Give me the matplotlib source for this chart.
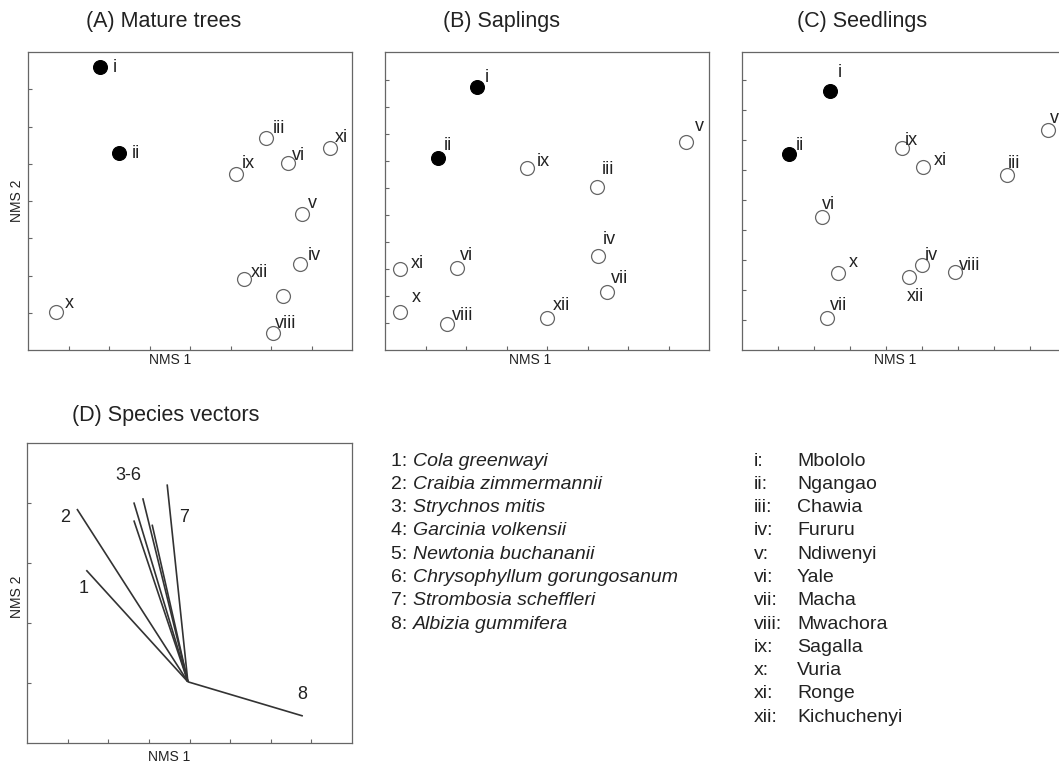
import matplotlib
matplotlib.use("Agg")
import matplotlib.pyplot as plt

plt.rcParams["font.family"] = ["Liberation Sans", "DejaVu Sans"]

W, H = 1059, 767
INK = "#222222"

# ---- data ----
sites = ["i", "ii", "iii", "iv", "v", "vi", "vii", "viii", "ix", "x", "xi", "xii"]
site_names = ["Mbololo", "Ngangao", "Chawia", "Fururu", "Ndiwenyi", "Yale",
              "Macha", "Mwachora", "Sagalla", "Vuria", "Ronge", "Kichuchenyi"]
filled_sites = ["i", "ii"]

mature_x = [1.78, 2.25, 5.88, 6.72, 6.77, 6.43, 6.29, 6.06, 5.13, 0.69, 7.46, 5.34]
mature_y = [7.61, 5.28, 5.70, 2.30, 3.64, 5.03, 1.46, 0.46, 4.72, 1.03, 5.43, 1.91]

sapling_x = [2.26, 1.32, 5.24, 5.25, 7.43, 1.77, 5.47, 1.54, 3.50, 0.37, 0.37, 4.01]
sapling_y = [8.75, 6.12, 5.05, 2.49, 6.69, 2.05, 1.14, -0.05, 5.73, 0.42, 1.99, 0.20]

seedling_x = [2.44, 1.31, 7.35, 4.99, 8.51, 2.21, 2.35, 5.92, 4.44, 2.68, 5.04, 4.64]
seedling_y = [8.64, 6.52, 5.83, 2.83, 7.33, 4.44, 1.06, 2.59, 6.72, 2.58, 6.09, 2.44]

species_num = ["1", "2", "3", "4", "5", "6", "7", "8"]
species_names = ["Cola greenwayi", "Craibia zimmermannii", "Strychnos mitis",
                 "Garcinia volkensii", "Newtonia buchananii",
                 "Chrysophyllum gorungosanum", "Strombosia scheffleri",
                 "Albizia gummifera"]
vec_origin = (3.96, 1.02)
vec_end_x = [1.46, 1.23, 2.63, 2.85, 2.63, 3.08, 3.45, 6.79]
vec_end_y = [2.88, 3.90, 4.01, 4.08, 3.71, 3.64, 4.31, 0.45]
vec_labels = ["1", "2", "3-6", "7", "8"]
vec_label_x = [1.40, 0.95, 2.49, 3.86, 6.78]
vec_label_y = [2.58, 3.76, 4.46, 3.76, 0.81]

# ---- layout (pixels) ----
def rect(left, top, right, bottom):
    return [left / W, 1 - bottom / H, (right - left) / W, (bottom - top) / H]

# label offsets (px right, px up) of the baseline-left corner from the marker
OFFS_A = {"i": (13, -5), "ii": (13, -5), "iii": (7, 5), "iv": (8, 4), "v": (6, 6),
          "vi": (4, 3), "viii": (2, 5), "ix": (6, 6), "x": (9, 4), "xi": (5, 6),
          "xii": (7, 2)}
OFFS_B = {"i": (8, 5), "ii": (5, 8), "iii": (5, 13), "iv": (5, 12), "v": (9, 11),
          "vi": (3, 8), "vii": (4, 9), "viii": (5, 4), "ix": (10, 2), "x": (12, 10),
          "xi": (11, 1), "xii": (5, 8)}
OFFS_C = {"i": (8, 14), "ii": (7, 4), "iii": (1, 7), "iv": (3, 5), "v": (2, 7),
          "vi": (0, 8), "vii": (3, 8), "viii": (4, 2), "ix": (3, 3), "x": (10, 6),
          "xi": (10, 2), "xii": (-2, -24)}

panels = [
    # title, box, xs, ys, xlim, xticks, ylim, yticks, offsets, title x, xlabel x, ylabel
    ("(A) Mature trees", (28, 52, 352, 350), mature_x, mature_y, (0, 8), range(1, 8),
     (0, 8), range(1, 8), OFFS_A, 0.180, 0.438, True),
    ("(B) Saplings", (385, 52, 709, 350), sapling_x, sapling_y, (0, 8), range(1, 8),
     (-1.0, 10.04), range(0, 10), OFFS_B, 0.178, 0.448, False),
    ("(C) Seedlings", (742, 52, 1066, 350), seedling_x, seedling_y, (0, 9), range(1, 9),
     (0, 9.93), range(1, 10), OFFS_C, 0.170, 0.472, False),
]

fig = plt.figure(figsize=(W / 100, H / 100), dpi=100)
fig.patch.set_facecolor("white")


def style_axes(ax):
    for sp in ax.spines.values():
        sp.set_color("#666666")
        sp.set_linewidth(0.9)
    ax.tick_params(direction="in", length=3, width=0.8, colors="#666666",
                   labelleft=False, labelbottom=False)


for (title, box, xs, ys, xlim, xt, ylim, yt, offs, tx, xlx, has_ylab) in panels:
    ax = fig.add_axes(rect(*box))
    h = box[3] - box[1]
    style_axes(ax)
    ax.set_xlim(*xlim)
    ax.set_ylim(*ylim)
    ax.set_xticks(list(xt))
    ax.set_yticks(list(yt))
    for s, x, y in zip(sites, xs, ys):
        if s in filled_sites:
            ax.plot(x, y, "o", ms=10, mfc="black", mec="black", mew=0.8)
        else:
            ax.plot(x, y, "o", ms=10, mfc="white", mec="#666666", mew=0.9)
        if s in offs:
            dx, dy = offs[s]
            ax.annotate(s, (x, y), xytext=(dx * 0.72, dy * 0.72),
                        textcoords="offset points", ha="left", va="baseline",
                        fontsize=13, color=INK)
    ax.text(tx, 1 + 30 / h, title, transform=ax.transAxes, ha="left",
            va="center", fontsize=15.5, color=INK)
    ax.text(xlx, -10 / h, "NMS 1", transform=ax.transAxes, ha="center",
            va="center", fontsize=10, color=INK)
    if has_ylab:
        ax.text(-11 / 324, 0.5, "NMS 2", transform=ax.transAxes, ha="center",
                va="center", rotation=90, fontsize=10, color=INK)

# ---- (D) species vectors ----
boxD = (27, 443, 352, 743)
hd = boxD[3] - boxD[1]
axd = fig.add_axes(rect(*boxD))
style_axes(axd)
axd.set_xlim(0, 8)
axd.set_ylim(0, 5)
axd.set_xticks(range(1, 8))
axd.set_yticks(range(1, 5))
for ex, ey in zip(vec_end_x, vec_end_y):
    axd.plot([vec_origin[0], ex], [vec_origin[1], ey], color="#333333", lw=1.2,
             solid_capstyle="butt")
for lab, lx, ly in zip(vec_labels, vec_label_x, vec_label_y):
    axd.text(lx, ly, lab, ha="center", va="center", fontsize=13, color=INK)
axd.text(45 / 325, 1 + 28 / hd, "(D) Species vectors", transform=axd.transAxes,
         ha="left", va="center", fontsize=15.5, color=INK)
axd.text(0.437, -14 / hd, "NMS 1", transform=axd.transAxes, ha="center",
         va="center", fontsize=10, color=INK)
axd.text(-10 / 325, 0.487, "NMS 2", transform=axd.transAxes, ha="center",
         va="center", rotation=90, fontsize=10, color=INK)

# ---- legends ----
row0, step = 461, 23.3
for i, (num, name) in enumerate(zip(species_num, species_names)):
    yy = 1 - (row0 + i * step) / H
    t = fig.text(391 / W, yy, f"{num}: ", ha="left", va="center",
                 fontsize=14, color=INK)
    axd.annotate(name, xy=(1, 0.5), xycoords=t, ha="left", va="center",
                 fontsize=14, color=INK, style="italic", annotation_clip=False)

for i, (s, name) in enumerate(zip(sites, site_names)):
    yy = 1 - (row0 + i * step) / H
    fig.text(754 / W, yy, f"{s}:", ha="left", va="center", fontsize=14, color=INK)
    fig.text(797 / W, yy, name, ha="left", va="center", fontsize=14, color=INK)

fig.savefig("out.png", dpi=100, facecolor="white")
